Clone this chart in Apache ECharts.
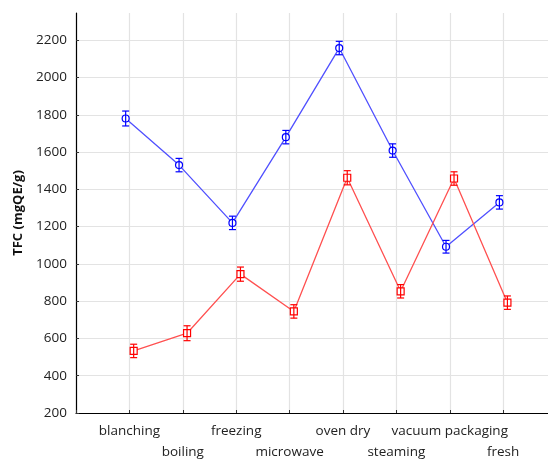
<!DOCTYPE html>
<html>
<head>
<meta charset="utf-8">
<script src="https://cdn.jsdelivr.net/npm/echarts@6/dist/echarts.min.js"></script>
<style>
  html, body { margin: 0; padding: 0; background: #fff; }
  #chart { width: 548px; height: 459px; }
</style>
</head>
<body>
<div id="chart"></div>
<script>
// Treatments along the x axis
const categories = ['blanching', 'boiling', 'freezing', 'microwave', 'oven dry', 'steaming', 'vacuum packaging', 'fresh'];

// Blue series (circles): mean TFC and error
const blueMean = [1780, 1530, 1220, 1680, 2158, 1608, 1092, 1330];
const blueErr  = [40, 36, 36, 36, 36, 36, 34, 36];

// Red series (squares): mean TFC and error
const redMean = [533, 628, 945, 745, 1462, 853, 1458, 792];
const redErr  = [36, 40, 38, 36, 38, 36, 36, 36];

// Value axis range and step
const yMin = 200, yMax = 2346, yStep = 200;
const xMax = 8.84;

const FONT = '"Open Sans", "Noto Sans", sans-serif';
const BLUE_LINE = '#5050ff', BLUE_MARK = '#0000ff';
const RED_LINE = '#ff5050', RED_MARK = '#ff0000';
const BLUE_SHIFT = -0.07, RED_SHIFT = 0.08;

function pts(means, shift) {
  return means.map((v, i) => [i + 1 + shift, v]);
}
function bars(means, errs, shift) {
  return means.map((v, i) => [i + 1 + shift, v - errs[i], v + errs[i]]);
}

function errorBarSeries(data, color) {
  return {
    type: 'custom',
    data: data,
    z: 3,
    silent: true,
    renderItem: function (params, api) {
      const x = api.value(0);
      const lo = api.coord([x, api.value(1)]);
      const hi = api.coord([x, api.value(2)]);
      const w = 3.5;
      const style = { stroke: color, lineWidth: 1.2, fill: null };
      return {
        type: 'group',
        children: [
          { type: 'line', shape: { x1: lo[0], y1: lo[1], x2: hi[0], y2: hi[1] }, style: style },
          { type: 'line', shape: { x1: lo[0] - w, y1: lo[1], x2: lo[0] + w, y2: lo[1] }, style: style },
          { type: 'line', shape: { x1: hi[0] - w, y1: hi[1], x2: hi[0] + w, y2: hi[1] }, style: style }
        ]
      };
    }
  };
}

const chart = echarts.init(document.getElementById('chart'), null, { renderer: 'canvas' });

chart.setOption({
  animation: false,
  backgroundColor: '#ffffff',
  grid: { left: 76, right: 0, top: 13, bottom: 45, containLabel: false },
  xAxis: {
    type: 'value',
    min: 0,
    max: xMax,
    interval: 1,
    axisLine: { show: true, lineStyle: { color: '#000', width: 1.2 } },
    axisTick: { show: true, inside: true, length: 3, lineStyle: { color: '#333' } },
    splitLine: { show: true, showMaxLine: false, lineStyle: { color: '#e3e3e3', width: 1.2 } },
    axisLabel: {
      show: true,
      showMaxLabel: false,
      margin: 10,
      fontFamily: FONT,
      fontSize: 13,
      color: '#222',
      formatter: function (v) {
        const i = Math.round(v) - 1;
        if (Math.abs(v - Math.round(v)) > 1e-6 || i < 0 || i >= categories.length) return '';
        return i % 2 === 0 ? '{a|' + categories[i] + '}' : '{b|' + categories[i] + '}';
      },
      rich: {
        a: { fontFamily: FONT, fontSize: 13.5, color: '#222', padding: [1, 0, 0, 0] },
        b: { fontFamily: FONT, fontSize: 13.5, color: '#222', padding: [22, 0, 0, 0] }
      }
    }
  },
  yAxis: {
    type: 'value',
    min: yMin,
    max: yMax,
    interval: yStep,
    name: 'TFC (mgQE/g)',
    nameLocation: 'middle',
    nameGap: 49,
    nameRotate: 90,
    nameTextStyle: { fontFamily: FONT, fontSize: 13, fontWeight: 'bold', color: '#111' },
    axisLine: { show: true, lineStyle: { color: '#000', width: 1.2 } },
    axisTick: { show: true, inside: true, length: 3, lineStyle: { color: '#333' } },
    splitLine: { show: true, showMaxLine: false, lineStyle: { color: '#e3e3e3', width: 1.2 } },
    axisLabel: {
      showMaxLabel: false,
      margin: 9,
      fontFamily: FONT,
      fontSize: 13.5,
      color: '#222',
      formatter: function (v) { return String(v); }
    }
  },
  series: [
    {
      name: 'blue',
      type: 'line',
      data: pts(blueMean, BLUE_SHIFT),
      z: 2,
      lineStyle: { color: BLUE_LINE, width: 1.3 },
      symbol: 'circle',
      symbolSize: 7,
      showAllSymbol: true,
      itemStyle: { color: '#fff', borderColor: BLUE_MARK, borderWidth: 1.2 },
      emphasis: { disabled: true }
    },
    errorBarSeries(bars(blueMean, blueErr, BLUE_SHIFT), BLUE_MARK),
    {
      name: 'red',
      type: 'line',
      data: pts(redMean, RED_SHIFT),
      z: 2,
      lineStyle: { color: RED_LINE, width: 1.3 },
      symbol: 'rect',
      symbolSize: 7,
      showAllSymbol: true,
      itemStyle: { color: '#fff', borderColor: RED_MARK, borderWidth: 1.2 },
      emphasis: { disabled: true }
    },
    errorBarSeries(bars(redMean, redErr, RED_SHIFT), RED_MARK)
  ]
});
</script>
</body>
</html>
